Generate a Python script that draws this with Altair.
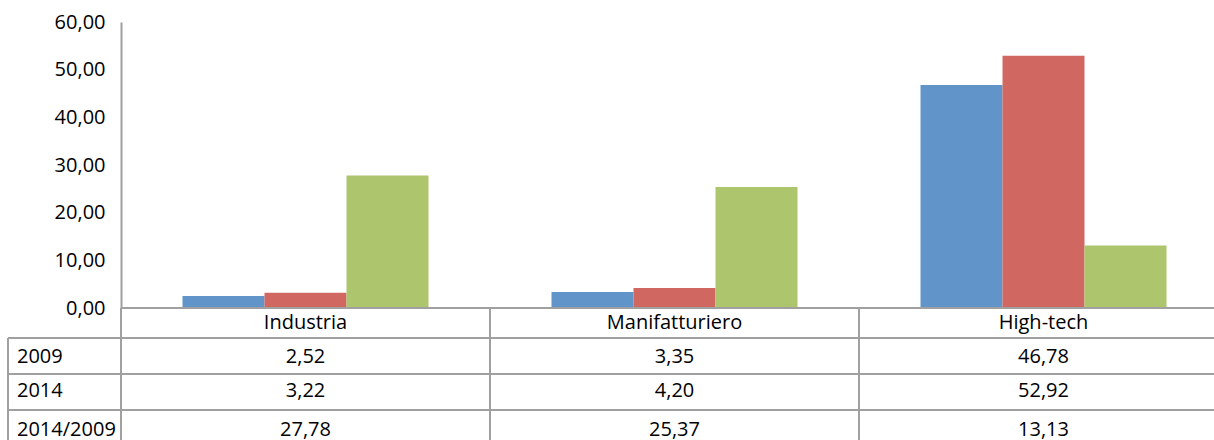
import altair as alt
import pandas as pd

# ---- data ----
categories = ["Industria", "Manifatturiero", "High-tech"]
series = ["2009", "2014", "2014/2009"]
v2009 = [2.52, 3.35, 46.78]
v2014 = [3.22, 4.20, 52.92]
vratio = [27.78, 25.37, 13.13]
colors = ["#6195CA", "#D06760", "#ADC56D"]
y_ticks = [0, 10, 20, 30, 40, 50, 60]

# ---- layout (table rows, in pixels below the x axis line) ----
header_center = 15
row_lines = [0, 30, 66, 102]
row_centers = [49, 83, 122]
table_bottom = 140
GRAY = "#A0A0A0"
FONT = "Open Sans"
FS = 20

recs = []
for s, vals in zip(series, [v2009, v2014, vratio]):
    for c, v in zip(categories, vals):
        recs.append({"cat": c, "series": s, "value": v,
                     "label": f"{v:.2f}".replace(".", ",")})
df = pd.DataFrame(recs)
df["pos"] = df["series"].map(dict(zip(series, row_centers)))

hdr = pd.DataFrame({"cat": categories, "pos": [header_center] * 3})
rowlab = pd.DataFrame({"series": series, "pos": row_centers})
hl = pd.DataFrame({"pos": row_lines, "x0": [0, -113, -113, -113]})
vl = pd.DataFrame({"cat": categories, "p0": [0] * 3, "p1": [table_bottom] * 3})

PLOT_W = 1093
FULL_W = 1107
x_scale = alt.Scale(domain=categories, range=[0, FULL_W], paddingInner=0, paddingOuter=0)
t_scale = alt.Scale(domain=[0, 132], range=[286, 418])

bars = alt.Chart(df).mark_bar(stroke=None).encode(
    x=alt.X("cat:N", scale=x_scale, axis=None, sort=categories),
    xOffset=alt.XOffset("series:N", sort=series,
                        scale=alt.Scale(domain=series, paddingInner=0, paddingOuter=0.75)),
    y=alt.Y("value:Q", scale=alt.Scale(domain=[0, 60], range=[286, 0], nice=False),
            axis=alt.Axis(values=y_ticks, ticks=False, grid=False, title=None,
                          domainColor=GRAY, domainWidth=2, labelPadding=16,
                          labelFont=FONT, labelFontSize=FS, labelColor="#000000",
                          labelExpr="replace(format(datum.value, '.2f'), '.', ',')")),
    color=alt.Color("series:N", scale=alt.Scale(domain=series, range=colors), legend=None),
)

hlines = alt.Chart(hl).mark_rule(color=GRAY, strokeWidth=2).encode(
    x=alt.X("x0:Q", scale=None),
    x2=alt.value(FULL_W + 20),
    y=alt.Y("pos:Q", scale=t_scale, axis=None),
)

vlines = alt.Chart(vl).mark_rule(color=GRAY, strokeWidth=2).encode(
    x=alt.X("cat:N", scale=x_scale, axis=None, bandPosition=0),
    y=alt.Y("p0:Q", scale=t_scale, axis=None),
    y2="p1:Q",
)

leftborder = alt.Chart(pd.DataFrame({"p0": [row_lines[1]], "p1": [table_bottom]})).mark_rule(
    color=GRAY, strokeWidth=2).encode(
    x=alt.value(-113),
    y=alt.Y("p0:Q", scale=t_scale, axis=None),
    y2="p1:Q",
)

headers = alt.Chart(hdr).mark_text(font=FONT, fontSize=FS, color="#000000", baseline="middle").encode(
    x=alt.X("cat:N", scale=x_scale, axis=None),
    y=alt.Y("pos:Q", scale=t_scale, axis=None),
    text="cat:N",
)

cells = alt.Chart(df).mark_text(font=FONT, fontSize=FS, color="#000000", baseline="middle").encode(
    x=alt.X("cat:N", scale=x_scale, axis=None),
    y=alt.Y("pos:Q", scale=t_scale, axis=None),
    text="label:N",
)

rowlabels = alt.Chart(rowlab).mark_text(font=FONT, fontSize=FS, color="#000000",
                                        align="left", baseline="middle").encode(
    x=alt.value(-104),
    y=alt.Y("pos:Q", scale=t_scale, axis=None),
    text="series:N",
)

chart = alt.layer(bars, hlines, vlines, leftborder, headers, cells, rowlabels).resolve_scale(
    y="independent"
).properties(
    width=PLOT_W, height=418,
    padding={"left": 121, "top": 22, "right": 0, "bottom": 0},
    autosize=alt.AutoSizeParams(type="none"),
    background="white",
).configure_view(stroke=None)

chart.save("out.html", embed_options={"renderer": "svg", "actions": False})
